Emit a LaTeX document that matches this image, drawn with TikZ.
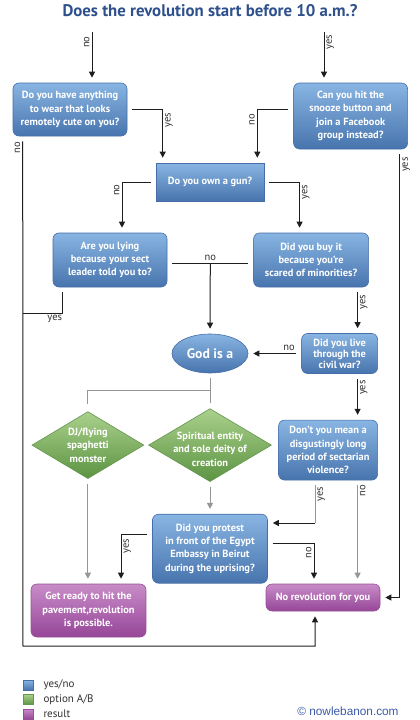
\documentclass[tikz,border=0pt]{standalone}
\usepackage{fontspec}
\setmainfont{PT Sans}
\newfontfamily\webfont{Liberation Sans}
\usetikzlibrary{positioning}
\usetikzlibrary{arrows.meta}
\usetikzlibrary{shapes.geometric}

\definecolor{qtop}{RGB}{136,181,226}
\definecolor{qbot}{RGB}{72,116,174}
\definecolor{qedge}{RGB}{70,110,170}
\definecolor{dtop}{RGB}{170,208,140}
\definecolor{dbot}{RGB}{92,148,66}
\definecolor{dedge}{RGB}{100,150,80}
\definecolor{rtop}{RGB}{200,140,200}
\definecolor{rbot}{RGB}{150,70,152}
\definecolor{redge}{RGB}{150,80,150}
\definecolor{lnblack}{RGB}{30,30,30}
\definecolor{lngray}{RGB}{150,150,150}
\definecolor{lbltext}{RGB}{50,50,50}
\definecolor{titleblue}{RGB}{46,80,140}
\definecolor{webblue}{RGB}{60,90,165}

\begin{document}
\begin{tikzpicture}[x=1pt, y=-1pt,
    qbox/.style={draw=qedge, line width=0.6pt, rounded corners=6pt, top color=qtop, bottom color=qbot,
        text=white, align=center, inner sep=0pt, font=\bfseries\fontsize{10.4}{13.3}\selectfont},
    gunbox/.style={qbox, rounded corners=0pt},
    godnode/.style={ellipse, draw=qedge, line width=0.6pt, top color=qtop, bottom color=qbot,
        text=white, inner sep=0pt, font=\bfseries\fontsize{13.7}{15}\selectfont},
    optbox/.style={diamond, draw=dedge, line width=0.6pt, top color=dtop, bottom color=dbot, inner sep=0pt},
    optlbl/.style={text=white, align=center, inner sep=0pt, font=\bfseries\fontsize{10.4}{13.3}\selectfont},
    resbox/.style={qbox, draw=redge, top color=rtop, bottom color=rbot},
    arr/.style={-{Triangle[length=6pt, width=6pt]}, line width=1pt, draw=lnblack,
        shorten <=5pt, shorten >=5pt},
    line/.style={line width=1pt, draw=lnblack, shorten <=5pt, shorten >=5pt},
    garr/.style={arr, draw=lngray},
    gline/.style={line, draw=lngray},
    lbl/.style={rotate=90, text=lbltext, inner sep=2pt, font=\fontsize{10.5}{11}\selectfont},
    lblflat/.style={text=lbltext, inner sep=2pt, font=\fontsize{10.5}{11}\selectfont},
    legsq/.style={draw, line width=0.6pt, minimum size=10pt, inner sep=0pt},
    legtxt/.style={text=lbltext, inner sep=2pt, anchor=west, font=\fontsize{11}{12}\selectfont}
]
    \useasboundingbox[fill=white] (0,0) rectangle (420,720);

    % title
    \node[text=titleblue, font=\bfseries\fontsize{16.8}{18}\selectfont] (title) at (210,11)
        {Does the revolution start before 10 a.m.?};

    % questions
    \node[qbox, minimum width=114pt, minimum height=53pt] (A) at (70,109.5)
        {Do you have anything\\to wear that looks\\remotely cute on you?};
    \node[qbox, minimum width=114pt, minimum height=66pt, below right=0pt and 166pt of A.north east] (B)
        {Can you hit the\\snooze button and\\join a Facebook\\group instead?};
    \node[gunbox, minimum width=108pt, minimum height=38pt] (gun) at (210,182) {Do you own a gun?};
    \node[qbox, minimum width=114pt, minimum height=54pt] (lying) at (110,260)
        {Are you lying\\because your sect\\leader told you to?};
    \node[qbox, minimum width=115pt, minimum height=54pt, right=86pt of lying] (buy)
        {Did you buy it\\because you're\\scared of minorities?};
    \node[godnode, minimum width=76pt, minimum height=39pt] (god) at (210,353.5) {God is a};
    \node[qbox, minimum width=76pt, minimum height=40pt, right=53pt of god,
        font=\bfseries\fontsize{10.4}{11}\selectfont] (civil)
        {Did you live\\through the\\civil war?};
    \node[qbox, minimum width=99pt, minimum height=60pt, below left=46pt and 0pt of civil.south east] (dont)
        {Don't you mean a\\disgustingly long\\period of sectarian\\violence?};

    % options
    \node[optbox, minimum width=123pt, minimum height=73pt, below=35pt of god,
        label={[optlbl, yshift=-4pt]center:{Spiritual entity\\and sole deity of\\creation}}] (spirit) {};
    \node[optbox, minimum width=112pt, minimum height=67pt, left=4pt of spirit,
        label={[optlbl]center:{DJ/flying\\spaghetti\\monster}}] (dj) {};
    \node[qbox, minimum width=115pt, minimum height=69pt, below=32pt of spirit] (protest)
        {Did you protest\\in front of the Egypt\\Embassy in Beirut\\during the uprising?};

    % results
    \node[resbox, minimum width=115pt, minimum height=53pt] (ready) at (88.5,610.5)
        {Get ready to hit the\\pavement,revolution\\is possible.};
    \node[resbox, minimum width=114pt, minimum height=27pt] (norev) at (323,597.5) {No revolution for you};

    % start
    \coordinate (sno) at (92,32);
    \coordinate (syes) at (324,32);
    \draw[arr, shorten <=0pt] (sno) -- (A.north -| sno) node[lbl, anchor=south, pos=0.2] {no};
    \draw[arr, shorten <=0pt] (syes) -- (B.north -| syes) node[lbl, anchor=north, pos=0.2] {yes};

    % to the gun
    \draw[arr] (A.east) -| ([xshift=7pt]gun.north west) node[lbl, anchor=north, pos=0.6] {yes};
    \draw[arr] ([yshift=7pt]B.west) -| ([xshift=-7pt]gun.north east) node[lbl, anchor=south, pos=0.6] {no};
    \draw[arr] (gun.west) -| ([xshift=12pt]lying.north) node[lbl, anchor=south, pos=0.58] {no};
    \draw[arr] (gun.east) -| ([xshift=-11.5pt]buy.north) node[lbl, anchor=north, pos=0.6] {yes};

    % to god
    \draw[line] ([yshift=-3pt]lying.east) -- ([yshift=-3pt]buy.west)
        coordinate[midway] (nojoin) node[lblflat, midway, above] {no};
    \draw[arr, shorten <=0pt] (nojoin) -- (god.north);
    \draw[arr] ([xshift=18pt]civil.north |- buy.south) -- ([xshift=18pt]civil.north)
        node[lbl, anchor=north, pos=0.33] {yes};
    \draw[arr] (civil.west) -- (god.east) node[lblflat, above, pos=0.23] {no};
    \draw[arr] ([xshift=18pt]civil.south) -- ([xshift=18pt]civil.south |- dont.north)
        node[lbl, anchor=north, pos=0.3] {yes};

    % god is a
    \draw[gline] (god.south) -- (spirit.north) coordinate[pos=0.5] (godjoin);
    \draw[gline, shorten <=0pt, shorten >=7pt] (godjoin) -| (dj.north);
    \draw[garr] (dj.south) -- (dj.south |- ready.north);
    \draw[garr] (spirit.south) -- (protest.north);

    % sectarian violence
    \coordinate (dyc) at (315,523);
    \draw[gline, shorten >=0pt] (dont.south -| dyc) -- (dyc) node[lbl, anchor=north, pos=0.32] {yes};
    \draw[arr, shorten <=0pt] (dyc) -- (protest.east |- dyc);
    \draw[garr] ([xshift=29.5pt]dont.south) -- ([xshift=29.5pt]dont.south |- norev.north)
        node[lbl, anchor=north, pos=0.1] {no};

    % protest
    \draw[arr] ([yshift=14.5pt]protest.west) -| ([xshift=32.5pt]ready.north) node[lbl, anchor=north, pos=0.62] {yes};
    \draw[arr] ([yshift=5.5pt]protest.east) -| ([xshift=-9pt]norev.north) node[lbl, anchor=south, pos=0.62] {no};

    % outer loops
    \coordinate (botL) at (23,646);
    \coordinate (yesjoin) at (23,313);
    \draw[line, shorten >=0pt] ([xshift=10pt]lying.south west) |- (yesjoin) node[lblflat, below, pos=0.6] {yes};
    \draw[arr] ([xshift=10pt]A.south west) -- node[lbl, anchor=south, pos=0.022] {no} (botL)
        -| ([xshift=-8pt]norev.south);
    \draw[arr] ([xshift=-8pt]B.south east) |- (norev.east) node[lbl, anchor=north, pos=0.017] {yes};

    % legend
    \node[legsq, draw=qedge, top color=qtop, bottom color=qbot] (lq) at (28,685) {};
    \node[legsq, draw=dedge, top color=dtop, bottom color=dbot] (lo) at (28,699.5) {};
    \node[legsq, draw=redge, top color=rtop, bottom color=rbot] (lr) at (28,714) {};
    \node[legtxt, right=8pt of lq] {yes/no};
    \node[legtxt, right=8pt of lo] {option A/B};
    \node[legtxt, right=8pt of lr] {result};

    \node[text=webblue, font=\webfont\fontsize{11.8}{13}\selectfont] (web) at (348,711) {\textcopyright\ nowlebanon.com};
\end{tikzpicture}
\end{document}
